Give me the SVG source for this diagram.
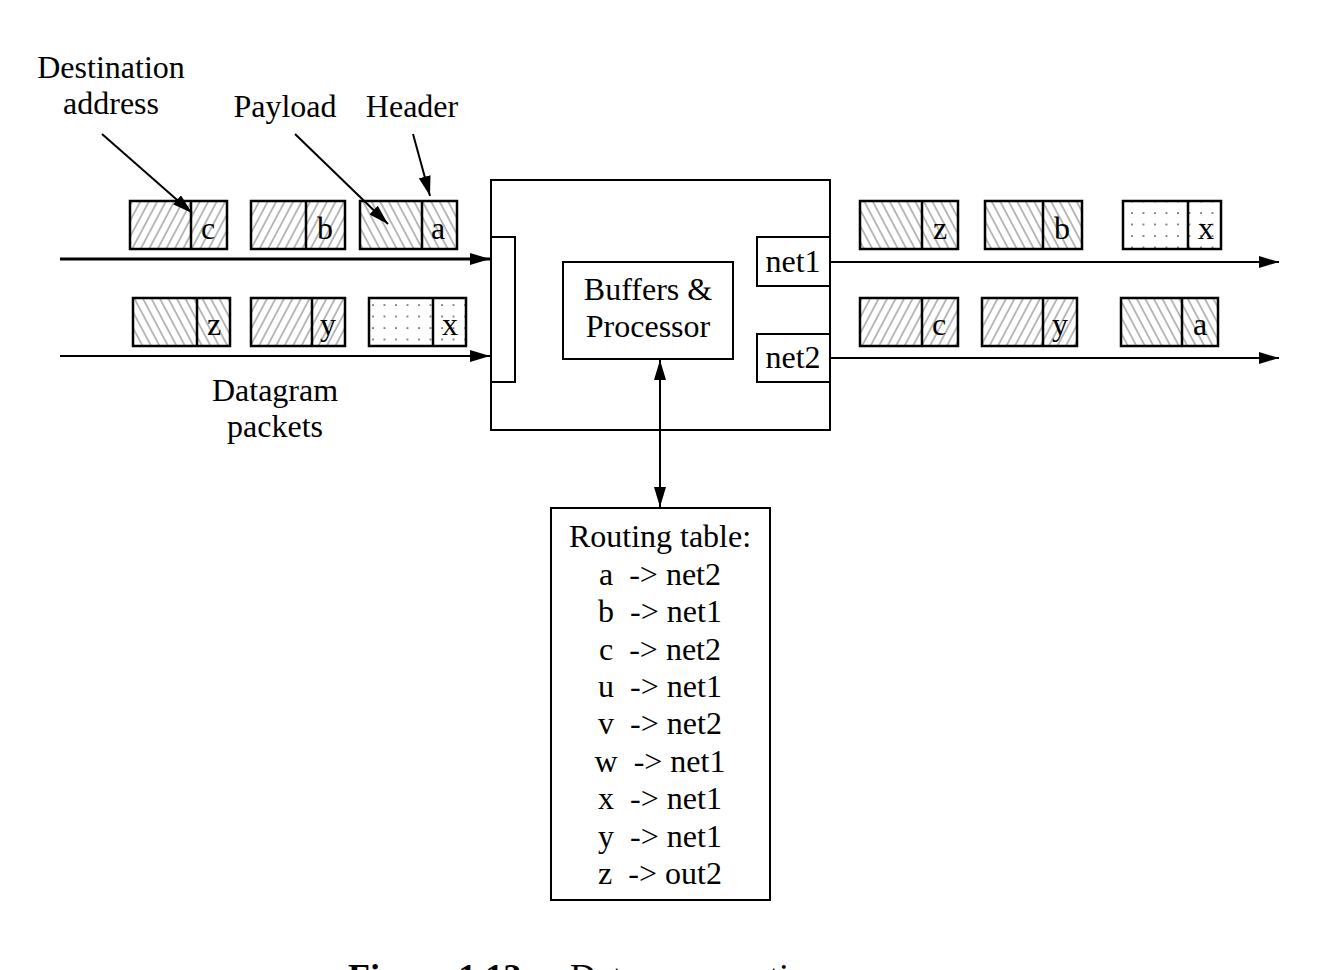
<svg xmlns="http://www.w3.org/2000/svg" width="1322" height="970" viewBox="0 0 1322 970">
<style>
text{font-family:"Liberation Serif","Times New Roman",serif;font-size:32px;fill:#000}
.c{text-anchor:middle}
.pre{white-space:pre}
.box{fill:#fff;stroke:#000;stroke-width:2}
.pk{stroke:#000;stroke-width:2.5}
.div{stroke:#000;stroke-width:2.5}
.ln{stroke:#000;stroke-width:2;fill:none}
.thick{stroke:#000;stroke-width:3;fill:none}
</style>
<defs>
<pattern id="fw" patternUnits="userSpaceOnUse" width="7.5" height="20" patternTransform="rotate(28)">
<rect width="7.5" height="20" fill="#fff"/>
<line x1="1" y1="0" x2="1" y2="20" stroke="#777" stroke-width="1"/>
</pattern>
<pattern id="bw" patternUnits="userSpaceOnUse" width="7.5" height="20" patternTransform="rotate(-28)">
<rect width="7.5" height="20" fill="#fff"/>
<line x1="1" y1="0" x2="1" y2="20" stroke="#777" stroke-width="1"/>
</pattern>
<pattern id="dt" patternUnits="userSpaceOnUse" width="11.5" height="11.5" x="3" y="4">
<rect width="11.5" height="11.5" fill="#fff"/>
<circle cx="2" cy="2" r="0.9" fill="#333"/>
</pattern>
<marker id="ah" viewBox="0 0 20 12" refX="20" refY="6" markerWidth="20" markerHeight="12" markerUnits="userSpaceOnUse" orient="auto-start-reverse">
<path d="M0,0 L20,6 L0,12 Z" fill="#000"/>
</marker>
</defs>

<g id="labels">
<text class="c" x="111" y="78">Destination</text>
<text class="c" x="111" y="114">address</text>
<text class="c" x="285" y="117">Payload</text>
<text class="c" x="412" y="117">Header</text>
<text class="c" x="275" y="401">Datagram</text>
<text class="c" x="275" y="437">packets</text>
</g>

<g id="router">
<rect class="box" x="491" y="180" width="339" height="250"/>
<rect class="box" x="491" y="237" width="24" height="145"/>
</g>
<g id="processor">
<rect class="box" x="563" y="262" width="170" height="97"/>
<text class="c" x="648" y="300">Buffers &amp;</text>
<text class="c" x="648" y="337">Processor</text>
</g>
<g id="net1">
<rect class="box" x="757" y="237" width="73" height="49"/>
<text class="c" x="793" y="272">net1</text>
</g>
<g id="net2">
<rect class="box" x="757" y="334" width="73" height="48"/>
<text class="c" x="793" y="368">net2</text>
</g>

<g id="routing-table">
<rect class="box" x="551" y="508" width="219" height="392"/>
<text class="c" x="660" y="547">Routing table:</text>
<text class="c pre" x="660" y="585">a  -&gt; net2</text>
<text class="c pre" x="660" y="622">b  -&gt; net1</text>
<text class="c pre" x="660" y="660">c  -&gt; net2</text>
<text class="c pre" x="660" y="697">u  -&gt; net1</text>
<text class="c pre" x="660" y="734">v  -&gt; net2</text>
<text class="c pre" x="660" y="772">w  -&gt; net1</text>
<text class="c pre" x="660" y="809">x  -&gt; net1</text>
<text class="c pre" x="660" y="847">y  -&gt; net1</text>
<text class="c pre" x="660" y="884">z  -&gt; out2</text>
</g>

<g id="in-packets">
<g id="in-c"><rect class="pk" x="130" y="201" width="97" height="48" fill="url(#fw)"/><line class="div" x1="191" y1="201" x2="191" y2="249"/><text class="c" x="208" y="239">c</text></g>
<g id="in-b"><rect class="pk" x="251" y="201" width="94" height="48" fill="url(#fw)"/><line class="div" x1="306" y1="201" x2="306" y2="249"/><text class="c" x="325" y="239">b</text></g>
<g id="in-a"><rect class="pk" x="360" y="201" width="97" height="48" fill="url(#bw)"/><line class="div" x1="422" y1="201" x2="422" y2="249"/><text class="c" x="438" y="239">a</text></g>
<g id="in-z"><rect class="pk" x="133" y="298" width="97" height="48" fill="url(#bw)"/><line class="div" x1="197" y1="298" x2="197" y2="346"/><text class="c" x="214" y="335">z</text></g>
<g id="in-y"><rect class="pk" x="251" y="298" width="94" height="48" fill="url(#fw)"/><line class="div" x1="312" y1="298" x2="312" y2="346"/><text class="c" x="328" y="335">y</text></g>
<g id="in-x"><rect class="pk" x="369" y="298" width="97" height="48" fill="url(#dt)"/><line class="div" x1="433" y1="298" x2="433" y2="346"/><text class="c" x="450" y="335">x</text></g>
</g>

<g id="out-packets">
<g id="out-z"><rect class="pk" x="860" y="201" width="98" height="48" fill="url(#bw)"/><line class="div" x1="922" y1="201" x2="922" y2="249"/><text class="c" x="940" y="239">z</text></g>
<g id="out-b"><rect class="pk" x="985" y="201" width="97" height="48" fill="url(#bw)"/><line class="div" x1="1043" y1="201" x2="1043" y2="249"/><text class="c" x="1062" y="239">b</text></g>
<g id="out-x"><rect class="pk" x="1123" y="201" width="98" height="48" fill="url(#dt)"/><line class="div" x1="1188" y1="201" x2="1188" y2="249"/><text class="c" x="1206" y="239">x</text></g>
<g id="out-c"><rect class="pk" x="860" y="298" width="98" height="48" fill="url(#fw)"/><line class="div" x1="922" y1="298" x2="922" y2="346"/><text class="c" x="939" y="335">c</text></g>
<g id="out-y"><rect class="pk" x="982" y="298" width="95" height="48" fill="url(#fw)"/><line class="div" x1="1043" y1="298" x2="1043" y2="346"/><text class="c" x="1060" y="335">y</text></g>
<g id="out-a"><rect class="pk" x="1121" y="298" width="97" height="48" fill="url(#bw)"/><line class="div" x1="1182" y1="298" x2="1182" y2="346"/><text class="c" x="1200" y="335">a</text></g>
</g>

<g id="connectors">
<line class="thick" x1="60" y1="259" x2="490" y2="259" marker-end="url(#ah)"/>
<line class="ln" x1="60" y1="356" x2="490" y2="356" marker-end="url(#ah)"/>
<line class="ln" x1="830" y1="262" x2="1279" y2="262" marker-end="url(#ah)"/>
<line class="ln" x1="830" y1="358" x2="1279" y2="358" marker-end="url(#ah)"/>
<line class="ln" x1="660" y1="507" x2="660" y2="360" marker-start="url(#ah)" marker-end="url(#ah)"/>
<line class="ln" x1="102" y1="134" x2="192" y2="213" marker-end="url(#ah)"/>
<line class="ln" x1="295" y1="134" x2="388" y2="224" marker-end="url(#ah)"/>
<line class="ln" x1="413" y1="134" x2="430" y2="196" marker-end="url(#ah)"/>
</g>

<g id="caption">
<text x="348" y="989" style="font-size:36px;font-weight:bold">Figure 1.12:</text>
<text x="570" y="989" style="font-size:36px">Datagram routing</text>
</g>
</svg>
